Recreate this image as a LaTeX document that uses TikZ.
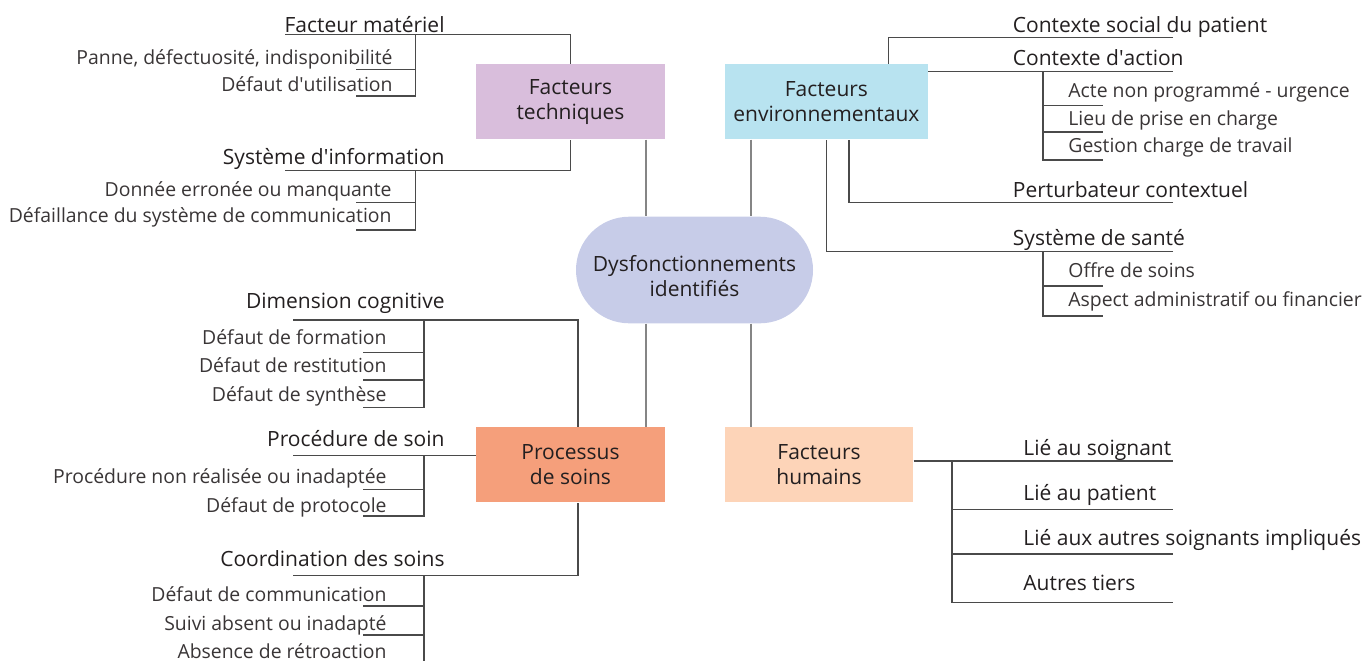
\documentclass[tikz,border=0pt]{standalone}
\usepackage{fontspec}
\setmainfont{Open Sans}
\definecolor{trait}{HTML}{4A4A4A}
\definecolor{axe}{HTML}{858585}
\definecolor{pillc}{HTML}{C7CCE8}
\definecolor{techc}{HTML}{D9BEDC}
\definecolor{envc}{HTML}{B8E3F0}
\definecolor{procc}{HTML}{F59F7B}
\definecolor{humc}{HTML}{FDD4B8}
\definecolor{encre}{HTML}{231F20}

\begin{document}
\begin{tikzpicture}
  [x=0.5pt,y=-0.5pt,
   cat/.style={minimum width=94.5pt,minimum height=37.5pt,inner sep=0,align=center,text=encre,font=\fontsize{10.5}{12.5}\selectfont},
   titre/.style={inner sep=0,text=encre,font=\fontsize{10.5}{12}\selectfont},
   item/.style={inner sep=0,text=encre!90,font=\fontsize{9.7}{11}\selectfont},
   lien/.style={draw=trait,line width=0.6pt},
   axe/.style={draw=axe,line width=0.6pt}]
  \useasboundingbox (0,0) rectangle (1365,660);

  \node[cat,fill=pillc,rounded corners=26.6pt,minimum width=118.5pt,minimum height=53.3pt] (centre) at (694.5,270) {\rule{0pt}{14pt}Dysfonctionnements\\identifiés};
  \node[cat,fill=techc] (tech) at (570.5,101.7) {Facteurs\\techniques};
  \node[cat,fill=envc,minimum width=101.3pt] (env) at (826.4,101.7) {Facteurs\\environnementaux};
  \node[cat,fill=procc] (proc) at (570.5,464.7) {Processus\\de soins};
  \node[cat,fill=humc,minimum width=94.2pt] (hum) at (819,464.7) {Facteurs\\humains};

  \coordinate (xa) at (646,0);
  \coordinate (xb) at (751,0);
  \draw[axe] (tech.south -| xa) -- (centre.north -| xa);
  \draw[axe] (env.south -| xb) -- (centre.north -| xb);
  \draw[axe] (centre.south -| xa) -- (proc.north -| xa);
  \draw[axe] (centre.south -| xb) -- (hum.north -| xb);

  \node[titre,anchor=base east] (fmat) at (445,32) {Facteur matériel};
  \node[item,anchor=base east] (fmat1) at (393,64) {Panne, défectuosité, indisponibilité};
  \node[item,anchor=base east] (fmat2) at (393,91) {Défaut d\textquotesingle utilisation};
  \coordinate (fmat-g) at (285,34.5);
  \coordinate (fmat-b) at (415.5,34.5);
  \coordinate (fmat1-g) at (356,69.3);
  \coordinate (fmat2-g) at (356,96);
  \draw[lien] (fmat-g) -| (tech.north);
  \draw[lien] (fmat-b) |- (fmat1-g);
  \draw[lien] (fmat-b) |- (fmat2-g);

  \node[titre,anchor=base east] (sinfo) at (445,164.5) {Système d\textquotesingle information};
  \node[item,anchor=base east] (sinfo1) at (392,196) {Donnée erronée ou manquante};
  \node[item,anchor=base east] (sinfo2) at (392,222) {Défaillance du système de communication};
  \coordinate (sinfo-g) at (285,170.7);
  \coordinate (sinfo-b) at (415.5,170.7);
  \coordinate (sinfo1-g) at (356,202.7);
  \coordinate (sinfo2-g) at (356,230);
  \draw[lien] (sinfo-g) -| (tech.south);
  \draw[lien] (sinfo-b) |- (sinfo1-g);
  \draw[lien] (sinfo-b) |- (sinfo2-g);

  \node[titre,anchor=base west] (csoc) at (1012.5,32.5) {Contexte social du patient};
  \coordinate (csoc-d) at (1173,37.7);
  \coordinate (csoc-x) at (888.5,0);
  \draw[lien] (csoc-d) -| (env.north -| csoc-x);

  \node[titre,anchor=base west] (cact) at (1012.5,65) {Contexte d\textquotesingle action};
  \node[item,anchor=base west] (cact1) at (1068,97.5) {Acte non programmé - urgence};
  \node[item,anchor=base west] (cact2) at (1068,125) {Lieu de prise en charge};
  \node[item,anchor=base west] (cact3) at (1068,152.5) {Gestion charge de travail};
  \coordinate (cact-d) at (1173,71.7);
  \coordinate (cact-b) at (1043,71.7);
  \coordinate (cact1-d) at (1103,105.3);
  \coordinate (cact2-d) at (1103,132);
  \coordinate (cact3-d) at (1103,160);
  \draw[lien] (env.east |- cact-d) -- (cact-d);
  \draw[lien] (cact-b) |- (cact1-d);
  \draw[lien] (cact-b) |- (cact2-d);
  \draw[lien] (cact-b) |- (cact3-d);

  \node[titre,anchor=base west] (pert) at (1012.5,197) {Perturbateur contextuel};
  \coordinate (pert-d) at (1173,202.7);
  \coordinate (pert-x) at (849,0);
  \draw[lien] (pert-d) -| (env.south -| pert-x);

  \node[titre,anchor=base west] (ssan) at (1012.5,245) {Système de santé};
  \node[item,anchor=base west] (ssan1) at (1068,277) {Offre de soins};
  \node[item,anchor=base west] (ssan2) at (1068,306) {Aspect administratif ou financier};
  \coordinate (ssan-d) at (1173,251.7);
  \coordinate (ssan-b) at (1043,251.7);
  \coordinate (ssan1-d) at (1103,286);
  \coordinate (ssan2-d) at (1103,316);
  \draw[lien] (ssan-d) -| (env.south);
  \draw[lien] (ssan-b) |- (ssan1-d);
  \draw[lien] (ssan-b) |- (ssan2-d);

  \node[titre,anchor=base east] (dcog) at (445,308) {Dimension cognitive};
  \node[item,anchor=base east] (dcog1) at (387,344) {Défaut de formation};
  \node[item,anchor=base east] (dcog2) at (387,372.5) {Défaut de restitution};
  \node[item,anchor=base east] (dcog3) at (387,401) {Défaut de synthèse};
  \coordinate (dcog-g) at (293,320);
  \coordinate (dcog-b) at (424,320);
  \coordinate (dcog-x) at (578,0);
  \coordinate (dcog1-g) at (363,352.3);
  \coordinate (dcog2-g) at (363,380);
  \coordinate (dcog3-g) at (363,407.3);
  \draw[lien] (dcog-g) -| (proc.north -| dcog-x);
  \draw[lien] (dcog-b) |- (dcog1-g);
  \draw[lien] (dcog-b) |- (dcog2-g);
  \draw[lien] (dcog-b) |- (dcog3-g);

  \node[titre,anchor=base east] (psoin) at (445,446) {Procédure de soin};
  \node[item,anchor=base east] (psoin1) at (387,483.5) {Procédure non réalisée ou inadaptée};
  \node[item,anchor=base east] (psoin2) at (387,512) {Défaut de protocole};
  \coordinate (psoin-g) at (293,455.7);
  \coordinate (psoin-b) at (424,455.7);
  \coordinate (psoin1-g) at (363,489.3);
  \coordinate (psoin2-g) at (363,516);
  \draw[lien] (psoin-g) -- (proc.west |- psoin-g);
  \draw[lien] (psoin-b) |- (psoin1-g);
  \draw[lien] (psoin-b) |- (psoin2-g);

  \node[titre,anchor=base east] (coord) at (445,566.5) {Coordination des soins};
  \node[item,anchor=base east] (coord1) at (387,601) {Défaut de communication};
  \node[item,anchor=base east] (coord2) at (387,630) {Suivi absent ou inadapté};
  \node[item,anchor=base east] (coord3) at (387,658) {Absence de rétroaction};
  \coordinate (coord-g) at (293,575.7);
  \coordinate (coord-b) at (424,575.7);
  \coordinate (coord-x) at (578,0);
  \coordinate (coord1-g) at (363,606);
  \coordinate (coord2-g) at (363,635);
  \coordinate (coord3-g) at (363,664);
  \draw[lien] (coord-g) -| (proc.south -| coord-x);
  \draw[lien] (coord-b) |- (coord1-g);
  \draw[lien] (coord-b) |- (coord2-g);
  \draw[lien] (coord-b) |- (coord3-g);

  \node[titre,anchor=base west] (lsoi) at (1023,455) {Lié au soignant};
  \node[titre,anchor=base west] (lpat) at (1023,500) {Lié au patient};
  \node[titre,anchor=base west] (laut) at (1023,545) {Lié aux autres soignants impliqués};
  \node[titre,anchor=base west] (ltie) at (1023,590) {Autres tiers};
  \coordinate (lsoi-d) at (1172.5,461);
  \coordinate (hum-b) at (952,461);
  \coordinate (lpat-d) at (1172.5,509.3);
  \coordinate (laut-d) at (1172.5,554);
  \coordinate (ltie-d) at (1172.5,602.7);
  \draw[lien] (hum.east |- lsoi-d) -- (lsoi-d);
  \draw[lien] (hum-b) |- (lpat-d);
  \draw[lien] (hum-b) |- (laut-d);
  \draw[lien] (hum-b) |- (ltie-d);
\end{tikzpicture}
\end{document}
